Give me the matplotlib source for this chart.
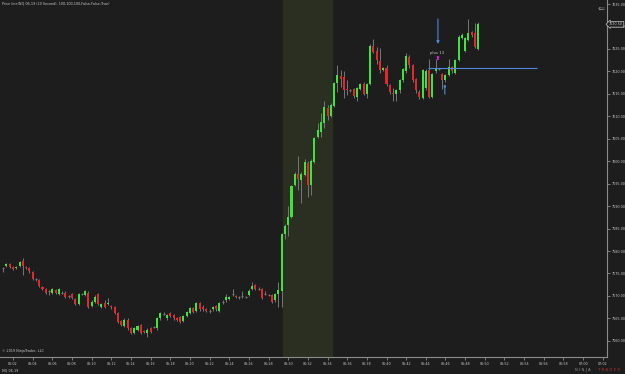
import matplotlib
matplotlib.use("Agg")
import matplotlib.pyplot as plt
from matplotlib.ticker import MultipleLocator, FormatStrFormatter

# 20 second bars, NQ 06-19
opens = [7576.25, 7576.75, 7577.0, 7576.5, 7576.25, 7576.75, 7577.75, 7576.5, 7576.25, 7575.25,
         7573.75, 7573.5, 7572.0, 7571.5, 7571.0, 7570.75, 7571.25, 7570.5, 7570.75, 7570.75,
         7570.0, 7570.5, 7569.25, 7568.25, 7570.5, 7570.25, 7570.75, 7567.75, 7568.75, 7570.5,
         7567.5, 7568.5, 7568.25, 7567.75, 7567.5, 7566.25, 7564.5, 7563.25, 7564.75, 7562.75,
         7561.75, 7562.5, 7563.5, 7562.25, 7561.75, 7562.75, 7563.0, 7562.75, 7565.0, 7566.0,
         7565.0, 7566.25, 7565.75, 7565.0, 7565.25, 7564.5, 7565.5, 7566.25, 7567.25, 7566.75,
         7568.5, 7567.5, 7567.0, 7566.75, 7567.0, 7567.75, 7566.75, 7568.75, 7569.0, 7569.25,
         7570.5, 7570.0, 7569.75, 7570.0, 7569.75, 7570.25, 7571.5, 7572.5, 7571.5, 7571.5,
         7570.5, 7570.25, 7570.25, 7569.0, 7570.5, 7571.0, 7583.75, 7585.75, 7587.5, 7594.75,
         7597.25, 7595.75, 7597.0, 7599.5, 7594.75, 7599.75, 7605.5, 7606.5, 7608.5, 7611.75,
         7610.0, 7612.25, 7617.5, 7619.0, 7618.75, 7616.0, 7615.75, 7616.0, 7614.25, 7616.0,
         7617.25, 7615.0, 7617.25, 7625.75, 7624.5, 7622.25, 7620.25, 7620.75, 7617.0, 7615.25,
         7615.0, 7615.75, 7618.0, 7620.0, 7623.25, 7621.5, 7618.25, 7615.5, 7614.0, 7616.25,
         7620.25, 7614.25, 7620.0, 7620.5, 7619.5, 7618.0, 7619.25, 7621.0, 7619.75, 7622.5,
         7627.5, 7624.5, 7627.0, 7628.75, 7628.5, 7625.0]
highs = [7576.5, 7577.25, 7577.25, 7576.75, 7576.75, 7577.75, 7578.5, 7576.75, 7576.5, 7575.5,
         7574.0, 7573.75, 7572.25, 7571.75, 7571.25, 7571.75, 7571.5, 7571.75, 7571.0, 7571.0,
         7570.25, 7570.75, 7569.5, 7570.75, 7570.75, 7571.25, 7571.0, 7569.0, 7570.25, 7570.75,
         7568.5, 7569.0, 7569.5, 7568.0, 7567.75, 7566.5, 7564.75, 7565.0, 7565.0, 7563.0,
         7563.0, 7563.5, 7563.75, 7562.5, 7562.75, 7563.0, 7563.25, 7565.25, 7566.5, 7566.5,
         7566.0, 7566.5, 7566.0, 7565.25, 7565.5, 7565.75, 7566.75, 7567.5, 7567.5, 7568.75,
         7568.75, 7568.0, 7567.25, 7567.0, 7567.75, 7568.0, 7568.75, 7569.0, 7570.5, 7570.0,
         7571.5, 7570.25, 7570.0, 7571.0, 7570.0, 7571.5, 7573.0, 7572.75, 7572.0, 7571.75,
         7571.0, 7570.5, 7570.5, 7570.75, 7573.0, 7584.0, 7586.0, 7590.0, 7594.75, 7597.5,
         7601.25, 7597.5, 7600.5, 7600.0, 7600.5, 7605.5, 7608.5, 7610.75, 7613.5, 7612.5,
         7613.0, 7617.75, 7621.5, 7620.25, 7620.0, 7618.0, 7616.0, 7616.25, 7616.5, 7617.5,
         7617.75, 7617.5, 7626.0, 7627.25, 7625.5, 7625.25, 7621.0, 7621.5, 7617.25, 7616.25,
         7616.0, 7618.25, 7620.75, 7624.0, 7623.75, 7621.75, 7618.5, 7615.75, 7620.5, 7620.5,
         7622.75, 7619.75, 7622.75, 7620.75, 7619.75, 7619.5, 7622.75, 7621.25, 7622.75, 7628.0,
         7628.5, 7627.75, 7631.75, 7629.0, 7630.75, 7631.0]
lows = [7575.25, 7576.5, 7576.25, 7575.75, 7576.0, 7576.5, 7574.75, 7576.0, 7575.0, 7573.5,
        7573.25, 7572.0, 7571.25, 7570.5, 7570.25, 7570.5, 7570.5, 7570.25, 7570.5, 7569.5,
        7569.5, 7569.25, 7568.0, 7568.0, 7570.25, 7570.0, 7567.25, 7567.5, 7568.5, 7568.0,
        7567.25, 7567.25, 7568.0, 7567.0, 7566.0, 7564.0, 7563.25, 7563.0, 7562.5, 7561.5,
        7561.5, 7562.25, 7561.5, 7561.75, 7560.75, 7561.75, 7562.75, 7562.5, 7564.75, 7565.75,
        7564.75, 7565.25, 7564.75, 7564.5, 7564.0, 7564.25, 7565.25, 7566.0, 7566.25, 7566.5,
        7566.75, 7566.75, 7566.5, 7566.25, 7566.75, 7566.75, 7566.5, 7568.25, 7568.75, 7569.0,
        7570.0, 7569.5, 7569.25, 7569.5, 7569.5, 7570.0, 7571.25, 7571.25, 7571.25, 7569.25,
        7570.25, 7570.0, 7568.5, 7568.75, 7567.5, 7567.5, 7582.75, 7583.25, 7587.25, 7594.5,
        7593.5, 7590.75, 7596.75, 7592.0, 7592.5, 7599.5, 7605.25, 7605.5, 7607.5, 7609.25,
        7609.75, 7612.0, 7615.5, 7616.5, 7614.0, 7614.75, 7615.5, 7614.0, 7613.5, 7615.75,
        7614.75, 7614.0, 7617.0, 7624.0, 7621.75, 7619.75, 7620.0, 7616.75, 7615.0, 7613.5,
        7613.5, 7615.25, 7617.75, 7619.75, 7620.75, 7617.75, 7615.25, 7613.75, 7613.75, 7615.75,
        7614.0, 7614.0, 7619.75, 7620.25, 7616.0, 7617.75, 7619.0, 7619.75, 7619.5, 7622.25,
        7627.25, 7624.25, 7626.75, 7627.75, 7625.25, 7624.75]
closes = [7576.25, 7577.0, 7576.5, 7576.0, 7576.5, 7577.5, 7576.75, 7576.25, 7575.5, 7573.75,
          7573.75, 7572.25, 7571.5, 7570.75, 7571.0, 7571.5, 7570.75, 7571.5, 7570.75, 7569.75,
          7570.0, 7569.5, 7568.25, 7570.5, 7570.5, 7571.0, 7567.5, 7568.75, 7569.75, 7568.25,
          7568.25, 7567.5, 7568.5, 7567.5, 7566.25, 7564.25, 7563.5, 7564.75, 7562.75, 7561.75,
          7562.75, 7563.25, 7561.75, 7562.0, 7562.5, 7562.0, 7563.0, 7565.0, 7566.25, 7566.0,
          7565.75, 7565.5, 7565.0, 7564.75, 7564.25, 7565.5, 7566.5, 7567.25, 7566.5, 7568.5,
          7567.0, 7567.0, 7566.75, 7566.75, 7567.5, 7567.0, 7568.5, 7568.75, 7569.75, 7569.75,
          7570.5, 7569.75, 7569.75, 7570.0, 7569.75, 7571.0, 7572.25, 7571.5, 7571.5, 7569.5,
          7570.5, 7570.25, 7568.75, 7570.5, 7571.25, 7583.75, 7585.5, 7587.5, 7594.5, 7597.25,
          7596.0, 7597.25, 7599.75, 7594.75, 7600.0, 7605.25, 7607.0, 7608.75, 7612.0, 7610.0,
          7612.5, 7617.5, 7619.25, 7618.25, 7615.75, 7615.75, 7615.75, 7614.5, 7616.25, 7617.25,
          7615.0, 7617.25, 7625.75, 7624.25, 7622.5, 7620.25, 7620.75, 7617.25, 7615.5, 7615.0,
          7615.75, 7618.0, 7620.5, 7623.5, 7621.5, 7618.0, 7615.75, 7614.25, 7620.25, 7620.0,
          7614.25, 7619.5, 7620.5, 7620.5, 7618.0, 7619.25, 7621.0, 7620.0, 7622.5, 7627.75,
          7628.0, 7627.5, 7628.5, 7628.0, 7625.5, 7630.5]

time_labels = ["06:02", "06:04", "06:06", "06:08", "06:10", "06:12", "06:14", "06:16",
               "06:18", "06:20", "06:22", "06:24", "06:26", "06:28", "06:30", "06:32",
               "06:34", "06:36", "06:38", "06:40", "06:42", "06:44", "06:46", "06:48",
               "06:50", "06:52", "06:54", "06:56", "06:58", "07:00", "07:02"]
bars_per_label = 6      # 2 min of 20 s bars
first_label_bar = 3

shade_bars = (85.5, 100.5)
hline_price = 7620.75
hline_bars = (129.6, 162.9)
signal_bar = 132.7
signal_text = "plus 13"

bg = "#1d1d1d"
grid_col = "#2b2b2b"
txt_col = "#c8c8c8"
up_col = "#39e639"
down_col = "#e5262b"
wick_col = "#777777"
blue = "#4f86e0"
fs = 2.4

fig = plt.figure(figsize=(6.25, 3.74), dpi=100, facecolor=bg)
ax = fig.add_axes([0, 17 / 374, 607 / 625, 357 / 374], facecolor=bg)

n = len(closes)
x = list(range(n))

# shaded session block
ax.axvspan(shade_bars[0], shade_bars[1], color="#2b2f22", zorder=0)

# wicks
ax.vlines(x, lows, highs, color=wick_col, linewidth=0.7, zorder=2)

# bodies
for i in range(n):
    o, c = opens[i], closes[i]
    if c > o:
        ax.bar(i, c - o, bottom=o, width=0.62, color=up_col, linewidth=0, zorder=3)
    elif c < o:
        ax.bar(i, o - c, bottom=c, width=0.62, color=down_col, linewidth=0, zorder=3)
    else:
        ax.hlines(c, i - 0.31, i + 0.31, color=wick_col, linewidth=0.8, zorder=3)

# drawings
ax.hlines(hline_price, hline_bars[0], hline_bars[1], color=blue, linewidth=0.8, zorder=4)
ax.annotate("", xy=(signal_bar, 7625.5), xytext=(signal_bar, 7632.3),
            arrowprops=dict(arrowstyle="-|>", color=blue, lw=0.8, mutation_scale=4), zorder=5)
ax.text(signal_bar - 0.3, 7624.2, signal_text, color=txt_col, fontsize=fs + 0.3,
        ha="center", va="center", zorder=5)
ax.annotate("", xy=(signal_bar, 7622.0), xytext=(signal_bar, 7623.3),
            arrowprops=dict(arrowstyle="-|>", color="#e020e0", lw=0.8, mutation_scale=3), zorder=5)
ax.annotate("", xy=(signal_bar + 2.1, 7617.8), xytext=(signal_bar + 2.1, 7614.3),
            arrowprops=dict(arrowstyle="-|>", color=blue, lw=0.8, mutation_scale=3), zorder=5)

# axes
ax.set_xlim(-0.97, 184.3)
ax.set_ylim(7556.4, 7635.9)
ax.yaxis.tick_right()
ax.yaxis.set_major_locator(MultipleLocator(5))
ax.yaxis.set_major_formatter(FormatStrFormatter("%.2f"))
ax.set_xticks([first_label_bar + k * bars_per_label for k in range(len(time_labels))])
ax.set_xticklabels(time_labels)
ax.tick_params(colors="#8c8c8c", labelcolor=txt_col, labelsize=fs, length=2, width=0.6, pad=1.5)
for s in ["top", "left"]:
    ax.spines[s].set_visible(False)
for s in ["right", "bottom"]:
    ax.spines[s].set_color("#8c8c8c")
    ax.spines[s].set_linewidth(0.8)

ax.set_yticks([7560, 7575, 7590, 7605, 7620, 7635], minor=True)
ax.set_xticks([first_label_bar + k * 3 * bars_per_label for k in range(11)], minor=True)
ax.tick_params(which="minor", length=0)
ax.grid(which="minor", color=grid_col, linewidth=0.6)

# price marker on the axis
ax.annotate("%.2f" % closes[-1], xy=(1.0, closes[-1]), xycoords=("axes fraction", "data"),
            xytext=(1.5, 0), textcoords="offset points", color=txt_col, fontsize=fs,
            va="center", ha="left",
            bbox=dict(boxstyle="larrow,pad=0.25", fc=bg, ec=txt_col, lw=0.5))

ax.text(0.003, 0.995, "Price line(NQ 06-19 (20 Second), 100,100,100,False,False,True)",
        transform=ax.transAxes, color=txt_col, fontsize=fs, va="top", ha="left")
ax.text(0.003, 0.01, "\u00a9 2019 NinjaTrader, LLC", transform=ax.transAxes,
        color=txt_col, fontsize=fs, va="bottom", ha="left")
fig.text(0.003, 0.004, "NQ 06-19", color=txt_col, fontsize=fs, va="bottom", ha="left")
fig.text(0.962, 0.978, "\u21d0", color="#9a9a9a", fontsize=6, va="center", ha="center")
fig.text(0.92, 0.006, "N I N J A", color="#8a8a8a", fontsize=2.8, va="bottom", ha="left")
fig.text(0.957, 0.006, "T R A D E R", color="#b03030", fontsize=2.8, va="bottom", ha="left")

fig.savefig("out.png", dpi=100, facecolor=bg)
